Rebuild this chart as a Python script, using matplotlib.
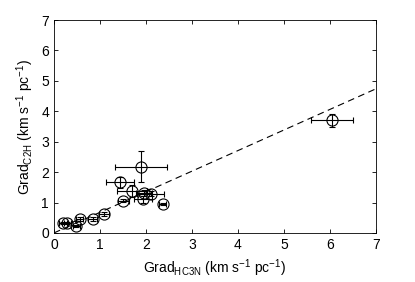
import matplotlib.pyplot as plt
import numpy as np

plt.rcParams['font.family'] = ['Liberation Sans', 'DejaVu Sans']
plt.rcParams['mathtext.fontset'] = 'custom'
plt.rcParams['mathtext.rm'] = 'Liberation Sans'
plt.rcParams['mathtext.it'] = 'Liberation Sans:italic'

# gradients (km s^-1 pc^-1)
grad_hc3n = [0.20, 0.29, 0.49, 0.56, 0.84, 1.09, 1.51, 1.43, 1.89, 1.69, 1.96, 2.10, 1.94, 2.36, 6.04]
grad_c2h = [0.33, 0.33, 0.22, 0.45, 0.45, 0.62, 1.06, 1.66, 2.18, 1.39, 1.32, 1.29, 1.10, 0.95, 3.70]
err_hc3n = [0.08, 0.08, 0.08, 0.08, 0.10, 0.10, 0.12, 0.30, 0.56, 0.33, 0.18, 0.30, 0.20, 0.08, 0.45]
err_c2h = [0.04, 0.04, 0.04, 0.06, 0.06, 0.06, 0.05, 0.18, 0.52, 0.20, 0.10, 0.08, 0.10, 0.04, 0.22]

fit_slope = 0.677

fig = plt.figure(figsize=(4.15, 2.82), dpi=100)
ax = fig.add_axes([0.130, 0.174, 0.776, 0.755])

ax.errorbar(grad_hc3n, grad_c2h, xerr=err_hc3n, yerr=err_c2h, fmt='o', color='k',
            mfc='none', mec='k', ms=8, mew=0.8, elinewidth=0.8, capsize=2, capthick=0.8)

xf = np.array([0, 7])
ax.plot(xf, fit_slope * xf, '--', color='k', lw=0.8, dashes=(6, 4))

ax.set_xlim(0, 7)
ax.set_ylim(0, 7)
ax.set_xticks(range(8))
ax.set_yticks(range(8))
ax.tick_params(direction='in', top=True, right=True, length=3, labelsize=10, width=0.6)
for s in ax.spines.values():
    s.set_linewidth(0.6)

ax.set_xlabel(r'Grad$_{\rm HC3N}$ (km s$^{-1}$ pc$^{-1}$)', fontsize=10)
ax.set_ylabel(r'Grad$_{\rm C2H}$ (km s$^{-1}$ pc$^{-1}$)', fontsize=10)

fig.savefig('out.png', dpi=100)
